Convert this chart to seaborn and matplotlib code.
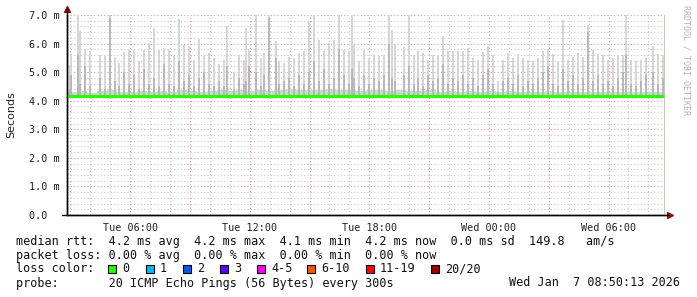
import numpy as np
import pandas as pd
import seaborn as sns
import matplotlib
matplotlib.use("Agg")
import matplotlib.pyplot as plt
import matplotlib.dates as mdates
from matplotlib.patches import Rectangle
from matplotlib.lines import Line2D
from matplotlib.ticker import MultipleLocator, FuncFormatter

# ---------------- data ----------------
start_time = "2026-01-06 02:50"
end_time = "2026-01-07 08:50"

# minutes after start of each smoke spike
spike_min = [5, 10, 30, 35, 50, 65, 95, 110, 125, 140,
             155, 170, 185, 200, 215, 230, 245, 260, 275, 290,
             305, 320, 335, 350, 365, 380, 395, 410, 425, 440,
             455, 470, 480, 500, 515, 530, 535, 545, 565, 580,
             590, 605, 625, 635, 650, 665, 680, 695, 710, 725,
             740, 755, 770, 785, 800, 815, 830, 845, 855, 860,
             875, 890, 905, 920, 935, 950, 965, 975, 985, 1010,
             1025, 1040, 1055, 1070, 1085, 1100, 1115, 1130, 1145, 1160,
             1175, 1190, 1205, 1220, 1235, 1250, 1265, 1280, 1295, 1310,
             1325, 1340, 1355, 1370, 1385, 1400, 1415, 1430, 1445, 1460,
             1475, 1490, 1505, 1520, 1535, 1550, 1565, 1580, 1595, 1610,
             1625, 1640, 1655, 1670, 1680, 1695, 1710, 1725, 1740, 1760,
             1775, 1790]
# highest ping of the spike (ms)
spike_max = [5.25, 5.65, 7.0, 6.45, 5.8, 5.75, 5.6, 5.57, 7.0, 5.52,
             5.32, 5.70, 5.79, 5.79, 5.38, 5.79, 6.02, 6.55, 5.79, 5.84,
             5.79, 5.55, 6.87, 5.96, 5.90, 5.44, 6.17, 5.61, 5.67, 5.49,
             5.28, 5.44, 6.6, 5.0, 5.61, 5.44, 6.55, 5.79, 7.0, 5.49,
             5.67, 7.0, 6.08, 5.38, 5.32, 5.52, 5.49, 5.67, 5.73, 6.8,
             7.0, 6.14, 5.73, 6.02, 6.14, 7.0, 5.79, 5.73, 7.0, 5.96,
             5.38, 5.79, 5.49, 5.61, 5.55, 5.61, 7.0, 6.49, 5.94, 5.87,
             7.0, 5.61, 5.73, 5.67, 5.44, 5.61, 5.55, 6.25, 5.75, 5.73,
             5.75, 5.73, 5.84, 5.49, 5.44, 5.70, 5.90, 5.61, 4.7, 5.44,
             5.67, 5.48, 5.65, 5.49, 5.44, 5.38, 5.48, 5.73, 5.79, 5.65,
             5.38, 6.84, 5.44, 5.52, 5.67, 5.52, 6.66, 5.79, 5.65, 5.61,
             5.44, 5.49, 5.59, 5.59, 7.0, 5.44, 5.38, 5.44, 5.48, 5.90,
             5.65, 5.59]
# second highest ping of the spike (ms) - darker smoke
spike_mid = [4.4, 4.9, 5.6, 4.6, 5.2, 4.5, 4.8, 4.4, 6.9, 4.7,
             4.5, 5.0, 4.6, 4.9, 4.4, 5.1, 4.6, 4.8, 4.5, 5.3,
             4.6, 4.5, 5.4, 4.7, 4.9, 4.5, 4.8, 5.0, 4.6, 4.5,
             4.7, 4.5, 5.2, 4.4, 4.8, 4.6, 4.7, 5.2, 5.0, 4.5,
             4.9, 6.9, 5.5, 4.6, 4.7, 4.8, 4.5, 4.9, 4.6, 5.0,
             5.4, 4.7, 5.1, 4.6, 4.8, 5.8, 4.9, 4.6, 5.1, 4.8,
             4.5, 4.9, 4.6, 4.8, 4.7, 4.9, 6.0, 4.8, 4.7, 4.9,
             5.2, 4.6, 4.8, 4.5, 4.9, 4.7, 4.8, 5.3, 4.6, 4.8,
             4.7, 4.9, 4.6, 4.8, 4.5, 4.9, 5.1, 4.6, 4.3, 4.7,
             4.8, 4.6, 4.9, 4.5, 4.7, 4.6, 4.8, 5.0, 5.2, 4.6,
             4.5, 5.1, 4.7, 4.9, 4.6, 4.8, 6.4, 4.7, 4.9, 4.6,
             4.7, 4.5, 4.8, 5.0, 5.6, 4.6, 4.5, 4.7, 4.9, 5.0,
             4.6, 4.8]
# half-hourly median rtt (ms)
median_rtt = [4.16, 4.15, 4.16, 4.16, 4.15, 4.16, 4.15, 4.16, 4.16, 4.15,
              4.16, 4.16, 4.17, 4.16, 4.16, 4.17, 4.16, 4.17, 4.17, 4.16,
              4.17, 4.17, 4.18, 4.17, 4.17, 4.18, 4.17, 4.18, 4.18, 4.17,
              4.18, 4.17, 4.18, 4.17, 4.17, 4.18, 4.17, 4.17, 4.16, 4.17,
              4.17, 4.16, 4.16, 4.17, 4.16, 4.16, 4.15, 4.16, 4.16, 4.15,
              4.16, 4.15, 4.15, 4.16, 4.15, 4.15, 4.16, 4.15, 4.15, 4.16,
              4.15]
# half-hourly upper edge of the low smoke band (ms)
smoke_base_top = [4.30, 4.34, 4.28, 4.33, 4.36, 4.29, 4.32, 4.35, 4.30, 4.34,
                  4.31, 4.36, 4.33, 4.30, 4.35, 4.38, 4.33, 4.37, 4.34, 4.39,
                  4.35, 4.38, 4.40, 4.36, 4.39, 4.37, 4.41, 4.36, 4.38, 4.35,
                  4.39, 4.36, 4.34, 4.38, 4.35, 4.33, 4.36, 4.32, 4.35, 4.31,
                  4.33, 4.30, 4.34, 4.31, 4.33, 4.29, 4.32, 4.30, 4.33, 4.29,
                  4.31, 4.30, 4.32, 4.29, 4.31, 4.30, 4.32, 4.29, 4.31, 4.30,
                  4.31]

y_ticks = [0, 1, 2, 3, 4, 5, 6, 7]
y_labels = ["0.0  ", "1.0 m", "2.0 m", "3.0 m", "4.0 m", "5.0 m", "6.0 m", "7.0 m"]

loss_labels = ["0", "1", "2", "3", "4-5", "6-10", "11-19", "20/20"]
loss_colors = ["#26ff00", "#00b8ff", "#0059ff", "#5e00ff", "#ff00ff",
               "#ff5500", "#ff0000", "#a10000"]

# ---------------- figure ----------------
sns.set_theme(style="white")
plt.rcParams['font.family'] = ['DejaVu Sans Mono']

W, H = 697, 297
fig = plt.figure(figsize=(W / 100, H / 100), dpi=100)
fig.patch.set_facecolor("white")
ax = fig.add_axes([67 / W, 82 / H, 598 / W, 200 / H])
ax.set_facecolor("white")

t0 = pd.Timestamp(start_time)
t1 = pd.Timestamp(end_time)
x0 = mdates.date2num(t0)
x1 = mdates.date2num(t1)

spike_x = mdates.date2num(t0 + pd.to_timedelta(spike_min, unit="min"))
step = 5 / 1440.0
base = 4.12

half_x = mdates.date2num(t0 + pd.to_timedelta(np.arange(len(median_rtt)) * 30, unit="min"))

# low smoke band
ax.fill_between(half_x, base, smoke_base_top, step="post", color="#d4d4d4", lw=0, zorder=1)

# spikes
smax = np.array(spike_max)
smid = np.array(spike_mid)
ax.bar(spike_x, smax - base, bottom=base, width=step * 1.2, align="edge",
       color="#d6d6d6", linewidth=0, zorder=2)
ax.bar(spike_x, smid - base, bottom=base, width=step * 1.2, align="edge",
       color="#b8b8b8", linewidth=0, zorder=3)

# median line
df_med = pd.DataFrame({"t": half_x, "rtt": median_rtt})
sns.lineplot(data=df_med, x="t", y="rtt", ax=ax, color="#26ff00",
             linewidth=2.3, drawstyle="steps-post", zorder=5)

# now line
ax.axvline(x1, color="#c4c0a8", lw=1.2, zorder=6)

ax.set_xlim(x0, x1)
ax.set_ylim(0, 7.0)

# grid / ticks
ax.yaxis.set_minor_locator(MultipleLocator(0.2))
ax.set_yticks(y_ticks)
ax.set_yticklabels(y_labels)
ax.xaxis.set_major_locator(mdates.HourLocator(byhour=range(0, 24, 3)))
ax.xaxis.set_minor_locator(mdates.HourLocator())


def fmt(x, pos):
    d = mdates.num2date(x)
    if d.hour % 6 == 0 and d.minute == 0:
        return d.strftime("%a %H:%M")
    return ""


ax.xaxis.set_major_formatter(FuncFormatter(fmt))

ax.grid(which="minor", color="#c8c8c8", linestyle=(0, (1, 2)), lw=0.8, zorder=0)
ax.grid(which="major", color="#e29a9a", linestyle=(0, (1, 2)), lw=0.8, zorder=0)
ax.set_axisbelow(True)

ax.tick_params(axis="both", which="major", direction="out", length=3, width=0.8,
               color="#666666", labelsize=7.3, labelcolor="#222222", pad=2)
ax.tick_params(axis="both", which="minor", direction="out", length=2, width=0.6,
               color="#c8c8c8")
ax.tick_params(axis="x", which="major", pad=3)

for s in ["top", "right"]:
    ax.spines[s].set_visible(False)
for s in ["left", "bottom"]:
    ax.spines[s].set_color("black")
    ax.spines[s].set_linewidth(1.0)

# axis extensions and arrows
fig.add_artist(Line2D([67 / W, 67 / W], [1 - 215 / H, 1 - 9 / H], color="black", lw=1.0))
fig.add_artist(Line2D([62 / W, 668 / W], [1 - 215 / H, 1 - 215 / H], color="black", lw=1.0))
ax.plot([67 / W], [1 - 9 / H], marker="^", ms=4.5, color="#8b1010",
        transform=fig.transFigure, clip_on=False)
ax.plot([670 / W], [1 - 215 / H], marker=">", ms=4.5, color="#8b1010",
        transform=fig.transFigure, clip_on=False)

ax.set_ylabel("Seconds", fontsize=8, family="DejaVu Sans", color="#222222")
ax.yaxis.set_label_coords((16 - 67) / 598, 0.5)
ax.set_xlabel("")

# watermark
fig.text(686 / W, 1 - 60 / H, "RRDTOOL / TOBI OETIKER", rotation=270,
         fontsize=6, color="#b4b4b4", ha="center", va="center")

# legend text
fs = 8.5
tc = "#111111"
line1 = "median rtt:  4.2 ms avg  4.2 ms max  4.1 ms min  4.2 ms now  0.0 ms sd  149.8   am/s"
line2 = "packet loss: 0.00 % avg  0.00 % max  0.00 % min  0.00 % now"
line4 = "probe:       20 ICMP Echo Pings (56 Bytes) every 300s"
fig.text(16 / W, 1 - 241 / H, line1, fontsize=fs, va="center", ha="left", color=tc)
fig.text(16 / W, 1 - 255 / H, line2, fontsize=fs, va="center", ha="left", color=tc)
fig.text(16 / W, 1 - 269 / H, "loss color:", fontsize=fs, va="center", ha="left", color=tc)
fig.text(16 / W, 1 - 283 / H, line4, fontsize=fs, va="center", ha="left", color=tc)
fig.text(680 / W, 1 - 283 / H, "Wed Jan  7 08:50:13 2026", fontsize=fs,
         va="center", ha="right", color=tc)

box_x = [108, 146, 183, 220, 257, 307, 366, 431]
for bx, lab, col in zip(box_x, loss_labels, loss_colors):
    fig.add_artist(Rectangle((bx / W, 1 - 273 / H), 8 / W, 8 / H,
                             transform=fig.transFigure, facecolor=col,
                             edgecolor="black", lw=0.8))
    fig.text((bx + 14) / W, 1 - 269 / H, lab, fontsize=fs, va="center",
             ha="left", color=tc)

fig.savefig("out.png", dpi=100, facecolor="white")
